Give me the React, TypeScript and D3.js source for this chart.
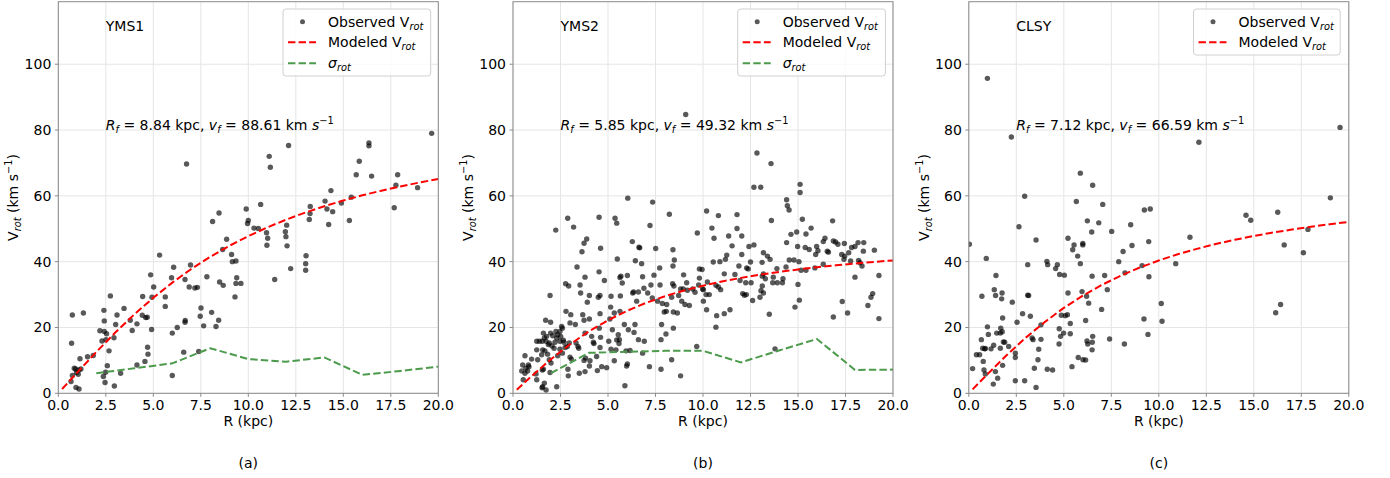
import React from "react";
import * as d3 from "d3";

// ---------- data ----------
const xTicks = [0, 2.5, 5, 7.5, 10, 12.5, 15, 17.5, 20];
const yTicks = [0, 20, 40, 60, 80, 100];
const panelNames = ["YMS1", "YMS2", "CLSY"];
const captions = ["(a)", "(b)", "(c)"];
const fitRf = ["8.84", "5.85", "7.12"];
const fitVf = ["88.61", "49.32", "66.59"];

const modelR = [0.2, 1, 2, 3, 4, 5, 6, 7, 8, 9, 10, 11, 12, 13, 14, 15, 16, 17, 18, 19, 20];
const model1 = [1.3, 6.35, 12.55, 18.46, 23.99, 29.03, 33.64, 37.78, 41.49, 44.81, 47.76, 50.42, 52.78, 54.93, 56.84, 58.58, 60.16, 61.57, 62.85, 64.04, 65.13];
const model2 = [1.07, 5.32, 10.35, 14.88, 18.83, 22.21, 25.05, 27.48, 29.51, 31.23, 32.71, 33.98, 35.08, 36.04, 36.89, 37.64, 38.31, 38.91, 39.45, 39.94, 40.39];
const model3 = [1.2, 5.91, 11.61, 16.92, 21.68, 25.95, 29.68, 32.93, 35.76, 38.22, 40.36, 42.26, 43.89, 45.38, 46.65, 47.81, 48.84, 49.76, 50.61, 51.38, 52.08];

const sigmaR = [2, 4, 6, 8, 10, 12, 14, 16, 18, 20];
const sigma1 = [6.1, 7.6, 9.1, 13.7, 10.4, 9.6, 10.9, 5.6, 6.8, 8.1];
const sigma2 = [6.1, 12.3, 12.6, 12.9, 12.9, 9.4, 13.0, 16.5, 7.1, 7.2];

const obs1: [number, number][] = [
  [6.75, 69.7], [8.12, 52.2], [8.46, 54.8], [8.86, 46.8], [8.65, 43.7], [9.12, 42.2], [9.16, 40.0], [9.35, 40.2],
  [9.39, 35.1], [9.35, 33.4], [9.61, 33.4], [9.3, 29.3], [9.89, 56.0], [10.0, 52.5], [9.96, 51.6], [10.3, 50.2],
  [8.49, 33.8], [8.68, 32.8], [7.82, 35.4], [8.07, 24.6], [8.44, 22.2], [8.3, 20.3], [7.51, 25.9], [7.47, 23.4],
  [7.65, 20.5], [6.96, 39.0], [6.67, 34.6], [6.89, 32.3], [7.19, 32.0], [7.32, 32.2], [6.07, 38.3], [5.96, 35.1],
  [6.68, 22.1], [6.67, 21.6], [6.26, 20.0], [6.0, 18.3], [6.6, 12.5], [6.0, 5.4], [7.39, 12.7], [5.33, 42.0],
  [4.86, 36.0], [5.02, 32.3], [5.63, 29.3], [5.63, 26.4], [4.93, 29.2], [4.44, 29.4], [4.42, 23.7], [4.68, 23.1],
  [4.6, 23.0], [4.91, 19.4], [4.7, 14.0], [4.72, 11.9], [4.56, 9.7], [4.14, 8.6], [4.14, 21.1], [3.89, 19.1],
  [3.79, 22.2], [3.46, 25.8], [3.09, 23.8], [3.02, 20.9], [3.28, 6.1], [2.95, 2.2], [2.74, 29.6], [2.4, 25.2],
  [2.42, 22.0], [2.19, 19.0], [2.42, 18.8], [2.54, 18.1], [2.3, 15.9], [2.51, 16.3], [2.93, 16.9], [2.67, 12.9],
  [2.58, 8.4], [2.49, 6.4], [2.37, 5.1], [2.46, 3.3], [1.84, 11.5], [1.54, 11.1], [1.14, 10.5], [1.19, 7.4],
  [0.84, 7.6], [0.91, 7.4], [1.09, 7.1], [0.96, 6.3], [1.05, 5.8], [0.74, 5.4], [0.67, 3.6], [0.93, 1.8],
  [1.09, 1.3], [0.7, 15.2], [0.74, 23.8], [1.32, 24.4],
  [10.53, 50.1], [10.65, 57.4], [10.96, 48.8], [11.02, 47.1], [10.98, 45.0], [11.1, 72.0], [11.16, 68.7],
  [11.39, 34.6], [11.95, 49.1], [12.02, 51.1], [11.98, 47.6], [12.04, 44.8], [12.12, 75.3], [12.23, 37.9],
  [13.04, 41.8], [13.02, 39.4], [13.02, 37.4], [13.21, 52.8], [13.25, 54.6], [13.26, 56.8], [14.04, 58.4],
  [14.14, 56.0], [14.23, 51.3], [14.35, 61.6], [14.44, 55.2], [14.9, 57.8], [15.32, 52.5], [15.42, 59.6],
  [15.68, 66.4], [15.84, 70.5], [16.35, 76.1], [16.35, 75.2], [16.49, 66.0], [17.68, 56.4], [17.77, 63.2],
  [17.86, 66.4], [18.91, 62.5], [19.65, 79.0],
];

const obs2: [number, number][] = [
  [9.09, 84.7], [6.04, 59.3], [7.35, 58.1], [2.88, 53.2], [3.19, 50.5], [2.25, 49.6], [4.53, 53.5], [5.37, 53.2],
  [5.46, 51.7], [8.23, 54.4], [7.21, 51.0], [3.88, 46.9], [3.74, 45.6], [3.63, 43.0], [6.28, 46.1], [6.63, 44.4],
  [6.67, 44.2], [4.61, 44.1], [7.51, 44.0], [8.42, 43.6], [8.49, 40.5], [9.7, 48.7], [10.19, 55.4], [5.49, 40.8],
  [6.44, 40.3], [6.77, 39.4], [3.37, 38.4], [4.53, 36.9], [3.79, 35.3], [4.81, 34.3], [5.68, 35.6], [5.63, 35.2],
  [6.02, 35.8], [5.75, 33.5], [6.82, 35.4], [7.42, 35.9], [7.72, 38.1], [8.42, 38.7], [8.98, 36.0], [9.81, 37.8],
  [9.81, 35.0], [9.77, 32.9], [8.4, 33.3], [8.47, 32.6], [2.77, 33.3], [2.93, 32.6], [3.53, 32.9], [3.56, 30.5],
  [4.02, 29.7], [3.91, 27.7], [1.95, 29.7], [4.49, 29.2], [4.58, 29.7], [5.16, 29.5], [5.65, 29.6], [6.35, 30.8],
  [6.3, 30.5], [6.6, 30.8], [6.89, 31.9], [7.09, 30.5], [7.26, 32.9], [7.74, 32.9], [6.51, 28.0], [7.33, 29.0],
  [7.61, 28.0], [7.86, 27.3], [8.09, 27.0], [8.35, 29.2], [8.72, 29.7], [8.82, 31.7], [8.96, 31.7], [9.14, 33.6],
  [9.18, 31.3], [8.88, 28.0], [9.05, 27.0], [9.28, 26.7], [9.46, 31.7], [9.58, 30.7], [9.98, 31.7], [10.02, 28.0],
  [10.19, 25.4], [10.16, 30.0], [7.96, 24.7], [8.07, 24.9], [8.44, 24.7], [8.65, 24.4], [8.05, 18.0], [8.44, 19.8],
  [7.82, 20.9], [7.79, 16.3], [8.35, 10.2], [8.82, 5.3], [9.67, 14.2], [7.18, 8.1], [7.79, 7.3], [6.91, 15.8],
  [6.6, 16.3], [6.82, 12.2], [6.42, 20.9], [6.37, 18.5], [6.07, 19.3], [6.16, 13.0], [5.86, 20.9], [5.54, 17.8],
  [5.46, 16.2], [5.6, 16.3], [5.58, 15.1], [5.42, 13.2], [5.33, 9.9], [5.95, 12.9], [5.89, 2.3], [6.02, 8.9],
  [5.98, 8.3], [5.63, 24.9], [5.33, 24.4], [5.14, 26.2], [5.1, 22.6], [5.23, 19.3], [5.04, 15.8], [4.93, 7.8],
  [5.16, 13.4], [4.58, 24.2], [4.54, 19.8], [4.61, 17.0], [4.58, 13.9], [4.67, 8.1], [4.4, 11.2], [4.44, 6.9],
  [4.26, 15.1], [4.23, 15.5], [4.14, 17.3], [4.02, 22.6], [3.67, 23.9], [3.74, 22.2], [3.79, 18.3], [3.82, 10.7],
  [3.74, 10.0], [4.05, 9.9], [4.02, 8.3], [3.49, 6.1], [3.79, 6.6], [3.28, 20.9], [3.32, 15.3], [3.42, 14.2],
  [3.46, 13.7], [3.04, 23.9], [2.79, 24.9], [3.0, 21.4], [2.96, 15.3], [3.0, 11.0], [3.07, 10.4], [2.89, 7.3],
  [2.91, 5.3], [2.74, 13.9], [2.86, 14.2], [2.68, 15.5], [2.47, 13.4], [2.6, 12.2], [2.35, 11.4], [2.56, 20.3],
  [2.6, 19.8], [2.47, 18.8], [2.51, 17.3], [2.65, 16.1], [2.47, 15.8], [2.35, 17.8], [2.3, 16.8], [2.26, 18.8],
  [2.09, 17.5], [2.21, 15.5], [2.05, 14.4], [2.16, 13.7], [1.91, 15.3], [1.74, 15.8], [1.65, 16.8], [1.77, 17.3],
  [1.98, 18.3], [1.72, 22.2], [1.6, 18.3], [1.54, 15.8], [1.56, 13.2], [1.68, 12.9], [1.86, 14.8], [1.82, 11.9],
  [1.91, 10.2], [2.0, 9.2], [1.39, 15.8], [1.25, 15.8], [1.25, 13.2], [1.51, 11.7], [1.3, 10.2], [0.98, 10.4],
  [0.63, 11.4], [0.81, 8.6], [0.84, 8.1], [0.68, 7.6], [0.51, 8.6], [0.46, 6.8], [0.63, 6.1], [0.77, 6.8],
  [0.54, 4.1], [1.25, 4.1], [1.54, 7.1], [1.6, 7.3], [1.56, 2.0], [1.65, 3.1], [1.53, 1.7], [1.74, 1.0],
  [2.3, 2.0], [1.95, 6.3], [1.21, 5.9], [1.98, 21.6],
  [12.84, 73.0], [13.58, 69.8], [12.68, 62.6], [13.04, 62.6], [15.11, 63.5], [15.11, 61.0], [14.4, 58.8],
  [14.44, 57.0], [14.53, 55.7], [10.81, 54.0], [11.79, 54.3], [15.23, 52.9], [16.82, 52.4], [10.47, 50.2],
  [11.79, 50.1], [10.58, 47.1], [11.35, 47.8], [12.04, 47.8], [13.6, 52.5], [14.93, 49.0], [14.63, 48.3],
  [15.42, 48.4], [15.69, 50.2], [16.42, 47.1], [16.33, 46.1], [16.86, 46.3], [16.98, 46.0], [17.1, 45.3],
  [17.44, 45.5], [18.16, 45.8], [18.46, 45.8], [18.0, 44.6], [17.82, 44.3], [17.3, 42.2], [17.67, 42.7],
  [17.46, 41.7], [11.53, 44.8], [12.42, 44.6], [12.68, 45.1], [12.04, 42.2], [11.25, 42.0], [11.18, 40.7],
  [10.54, 39.9], [10.89, 40.0], [14.4, 45.8], [14.98, 44.6], [15.38, 44.3], [15.59, 43.7], [15.98, 44.6],
  [16.05, 43.3], [15.93, 42.2], [16.54, 43.2], [16.6, 42.9], [19.02, 43.5], [18.44, 43.2], [13.39, 41.7],
  [13.53, 40.7], [13.18, 42.7], [13.11, 39.8], [11.89, 38.7], [12.3, 38.1], [12.38, 37.8], [12.5, 39.9],
  [14.54, 40.5], [14.79, 40.5], [15.05, 40.0], [15.42, 37.4], [15.89, 38.1], [16.33, 39.2], [17.42, 40.7],
  [17.77, 40.2], [18.19, 40.4], [18.26, 39.7], [18.37, 38.7], [9.95, 37.6], [11.12, 36.3], [11.68, 36.1],
  [11.95, 34.3], [13.12, 35.6], [13.28, 34.8], [13.89, 37.9], [13.67, 33.6], [13.18, 36.3], [10.23, 33.8],
  [10.02, 31.5], [10.68, 32.8], [10.81, 32.3], [10.93, 31.5], [10.33, 30.0], [12.25, 33.6], [12.28, 30.0],
  [12.09, 30.3], [12.18, 29.8], [12.53, 33.6], [12.61, 28.2], [13.12, 32.6], [13.05, 31.2], [13.0, 29.2],
  [13.18, 30.5], [13.91, 33.6], [14.18, 33.6], [14.21, 34.8], [14.37, 38.4], [13.7, 35.3], [15.0, 33.1],
  [15.16, 37.4], [18.0, 35.3], [18.68, 26.7], [18.84, 29.2], [18.93, 30.3], [19.26, 35.8], [19.26, 22.7],
  [17.33, 27.9], [17.61, 24.4], [16.86, 23.2], [15.07, 28.3], [14.84, 26.2], [13.79, 13.5], [13.49, 24.0],
  [10.68, 20.1], [10.72, 23.6], [11.12, 24.2], [11.42, 25.4],
];

const obs3: [number, number][] = [
  [0.98, 95.7], [2.24, 77.9], [0.03, 45.3], [0.92, 41.0], [1.43, 35.8], [0.69, 29.5], [1.34, 31.5], [1.41, 29.7],
  [1.75, 30.5], [1.73, 28.7], [2.29, 27.7], [1.78, 22.9], [0.98, 20.2], [1.03, 17.9], [0.66, 16.3], [1.47, 18.3],
  [1.68, 19.8], [1.76, 18.7], [1.66, 18.3], [1.82, 15.6], [1.89, 15.5], [1.31, 14.6], [1.17, 13.5], [0.73, 13.7],
  [0.84, 13.5], [0.87, 13.6], [1.66, 13.7], [2.1, 14.2], [0.4, 11.7], [0.57, 11.7], [0.76, 9.7], [0.2, 7.5],
  [0.8, 7.1], [0.87, 5.9], [1.4, 6.6], [1.78, 8.5], [1.52, 4.6], [1.29, 2.8], [2.45, 12.2], [2.45, 10.9],
  [2.45, 3.8], [2.54, 21.6], [2.83, 24.2], [2.64, 50.6], [2.94, 59.9], [3.1, 39.1], [3.1, 29.8], [3.15, 29.7],
  [2.94, 3.8], [3.24, 23.4], [3.33, 16.8], [3.38, 16.3], [3.54, 46.6], [3.54, 1.8], [3.8, 20.8], [3.8, 16.4],
  [3.68, 13.4], [3.64, 10.2], [3.45, 7.6], [4.11, 40.1], [4.15, 39.1], [4.13, 7.3], [4.41, 7.1], [4.57, 37.9],
  [4.66, 39.1], [4.78, 36.1], [5.03, 35.9], [4.75, 15.0], [4.76, 19.6], [4.83, 17.3], [4.99, 18.3], [4.87, 23.7],
  [5.08, 23.6], [5.19, 23.9], [5.22, 30.5], [5.22, 47.1], [5.34, 18.1], [5.34, 21.2], [5.43, 8.1], [5.47, 43.6],
  [5.54, 45.1], [5.73, 41.7], [5.66, 58.3], [5.76, 10.9], [5.87, 66.9], [5.87, 39.4], [5.96, 30.9], [6.0, 45.5],
  [6.0, 45.1], [6.01, 10.2], [6.15, 10.1], [6.15, 22.1], [6.2, 29.5], [6.22, 15.9], [6.26, 15.0], [6.31, 27.4],
  [6.24, 52.4], [6.47, 49.0], [6.49, 35.6], [6.52, 63.2], [6.52, 17.3], [6.5, 15.5], [6.49, 13.2], [6.84, 51.8],
  [6.99, 25.5], [7.05, 57.4], [7.15, 35.8], [7.29, 31.5], [7.41, 16.5], [7.52, 49.2], [7.89, 40.0], [8.12, 43.1],
  [8.19, 15.0], [8.22, 36.6], [8.52, 51.2], [8.59, 44.9], [9.12, 38.8], [9.22, 22.6], [9.24, 55.7], [9.47, 46.1],
  [9.48, 35.4], [9.43, 17.9], [9.55, 56.0], [10.13, 27.3], [10.17, 21.9],
  [10.89, 39.4], [11.64, 47.4], [12.11, 76.3], [14.59, 54.1], [14.84, 52.6], [16.15, 24.5], [16.41, 27.0],
  [16.26, 55.0], [16.6, 45.1], [17.61, 42.7], [17.85, 49.8], [19.03, 59.4], [19.54, 80.8],
];

// ---------- layout ----------
const W = 1390;
const H = 478;
const panelLeft = [58.3, 513, 968.8];
const panelW = 380;
const plotTop = 1.7;
const plotBottom = 393.3;
const FONT = "DejaVu Sans, Verdana, sans-serif";
const FS = 14;
const GREEN = "#4c9a4c";
const SPINE = "#8a8a8a";

const obsSets = [obs1, obs2, obs3];
const modelSets = [model1, model2, model3];
const sigmaSets: (number[] | null)[] = [sigma1, sigma2, null];

function Sub({ children }: { children: React.ReactNode }) {
  return null;
}

function Panel({ i }: { i: number }) {
  const left = panelLeft[i];
  const x = d3.scaleLinear().domain([0, 20]).range([left, left + panelW]);
  const y = d3.scaleLinear().domain([0, 119]).range([plotBottom, plotTop]);
  const line = d3
    .line<[number, number]>()
    .x((d) => x(d[0]))
    .y((d) => y(d[1]));
  const modelPts = modelR.map((r, k) => [r, modelSets[i][k]] as [number, number]);
  const sig = sigmaSets[i];
  const sigPts = sig ? sigmaR.map((r, k) => [r, sig[k]] as [number, number]) : null;
  const clipId = `clip${i}`;
  const cx = left + panelW / 2;
  const midY = (plotTop + plotBottom) / 2;

  // legend geometry
  const hasSigma = !!sig;
  const legLeft = left + (i === 2 ? 224.7 : 224.7);
  const legW = i === 2 ? 146.7 : 147.7;
  const legTop = 9;
  const legH = hasSigma ? 67 : 46;
  const rowY = [21.7, 42.3, 63.3];
  const labelX = legLeft + 45;

  return (
    <g>
      <defs>
        <clipPath id={clipId}>
          <rect x={left} y={plotTop} width={panelW} height={plotBottom - plotTop} />
        </clipPath>
      </defs>
      {/* grid */}
      {xTicks.map((t) => (
        <line key={"gx" + t} x1={x(t)} x2={x(t)} y1={plotTop} y2={plotBottom} stroke="#e5e5e5" strokeWidth={1} />
      ))}
      {yTicks.map((t) => (
        <line key={"gy" + t} x1={left} x2={left + panelW} y1={y(t)} y2={y(t)} stroke="#e5e5e5" strokeWidth={1} />
      ))}
      <g clipPath={`url(#${clipId})`}>
        {obsSets[i].map((d, k) => (
          <circle key={k} cx={x(d[0])} cy={y(d[1])} r={2.7} fill="#000" fillOpacity={0.65} />
        ))}
        <path d={line(modelPts) || ""} fill="none" stroke="#ff0000" strokeWidth={2} strokeDasharray="7.4,3.2" />
        {sigPts && (
          <path d={line(sigPts) || ""} fill="none" stroke={GREEN} strokeWidth={2} strokeDasharray="7.4,3.2" />
        )}
      </g>
      {/* spines */}
      <rect x={left} y={plotTop} width={panelW} height={plotBottom - plotTop} fill="none" stroke={SPINE} strokeWidth={1} />
      {/* x ticks */}
      {xTicks.map((t) => (
        <g key={"xt" + t}>
          <line x1={x(t)} x2={x(t)} y1={plotBottom} y2={plotBottom + 3.5} stroke={SPINE} />
          <text x={x(t)} y={plotBottom + 17} textAnchor="middle" fontFamily={FONT} fontSize={FS} fill="#000">
            {t.toFixed(1)}
          </text>
        </g>
      ))}
      {/* y ticks */}
      {yTicks.map((t) => (
        <g key={"yt" + t}>
          <line x1={left - 3.5} x2={left} y1={y(t)} y2={y(t)} stroke={SPINE} />
          <text x={left - 7} y={y(t) + 5} textAnchor="end" fontFamily={FONT} fontSize={FS} fill="#000">
            {t}
          </text>
        </g>
      ))}
      {/* axis labels */}
      <text x={cx} y={426} textAnchor="middle" fontFamily={FONT} fontSize={FS} fill="#000">
        R (kpc)
      </text>
      <text
        transform={`translate(${left - 40},${midY}) rotate(-90)`}
        textAnchor="middle"
        fontFamily={FONT}
        fontSize={FS}
        fill="#000"
      >
        V
        <tspan fontSize={FS * 0.7} fontStyle="italic" dy={3}>rot</tspan>
        <tspan dy={-3}> (km s</tspan>
        <tspan fontSize={FS * 0.7} dy={-6}>−1</tspan>
        <tspan dy={6}>)</tspan>
      </text>
      {/* caption */}
      <text x={cx} y={468} textAnchor="middle" fontFamily={FONT} fontSize={FS} fill="#000">
        {captions[i]}
      </text>
      {/* annotations */}
      <text x={x(2.5)} y={y(110)} fontFamily={FONT} fontSize={FS} fill="#000">
        {panelNames[i]}
      </text>
      <text x={x(2.5)} y={y(80)} fontFamily={FONT} fontSize={FS} fill="#000">
        <tspan fontStyle="italic">R</tspan>
        <tspan fontStyle="italic" fontSize={FS * 0.7} dy={3}>f</tspan>
        <tspan dy={-3}>{` = ${fitRf[i]} kpc, `}</tspan>
        <tspan fontStyle="italic">v</tspan>
        <tspan fontStyle="italic" fontSize={FS * 0.7} dy={3}>f</tspan>
        <tspan dy={-3}>{` = ${fitVf[i]} km `}</tspan>
        <tspan fontStyle="italic">s</tspan>
        <tspan fontSize={FS * 0.7} dy={-6}>−1</tspan>
      </text>
      {/* legend */}
      <rect x={legLeft} y={legTop} width={legW} height={legH} rx={3} fill="#fff" fillOpacity={0.8} stroke="#d0d0d0" />
      <circle cx={legLeft + 19.5} cy={rowY[0]} r={2.5} fill="#000" fillOpacity={0.65} />
      <text x={labelX} y={rowY[0] + 5} fontFamily={FONT} fontSize={FS} fill="#000">
        Observed V<tspan fontStyle="italic" fontSize={FS * 0.7} dy={3}>rot</tspan>
      </text>
      <line x1={legLeft + 5} x2={legLeft + 33} y1={rowY[1]} y2={rowY[1]} stroke="#ff0000" strokeWidth={2} strokeDasharray="7.4,3.2" />
      <text x={labelX} y={rowY[1] + 5} fontFamily={FONT} fontSize={FS} fill="#000">
        Modeled V<tspan fontStyle="italic" fontSize={FS * 0.7} dy={3}>rot</tspan>
      </text>
      {hasSigma && (
        <g>
          <line x1={legLeft + 5} x2={legLeft + 33} y1={rowY[2]} y2={rowY[2]} stroke={GREEN} strokeWidth={2} strokeDasharray="7.4,3.2" />
          <text x={labelX} y={rowY[2] + 5} fontFamily={FONT} fontSize={FS} fill="#000">
            <tspan fontStyle="italic">σ</tspan>
            <tspan fontStyle="italic" fontSize={FS * 0.7} dy={3}>rot</tspan>
          </text>
        </g>
      )}
    </g>
  );
}

export default function App() {
  return (
    <svg
      width={W}
      height={H}
      style={{ position: "absolute", left: 0, top: 0, background: "#fff" }}
      xmlns="http://www.w3.org/2000/svg"
    >
      <rect x={0} y={0} width={W} height={H} fill="#fff" />
      {[0, 1, 2].map((i) => (
        <Panel key={i} i={i} />
      ))}
    </svg>
  );
}
